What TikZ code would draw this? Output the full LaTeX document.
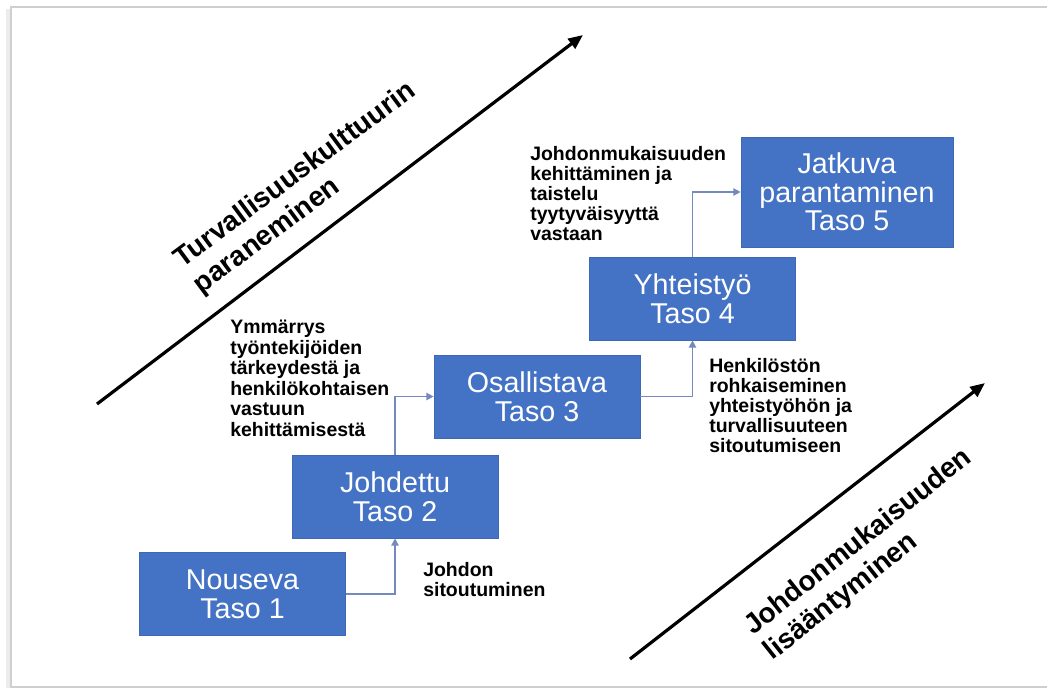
\documentclass[tikz,border=0pt]{standalone}
\usepackage{fontspec}
\setmainfont{Liberation Sans}
\usetikzlibrary{arrows.meta}
\definecolor{boxblue}{HTML}{4472C4}
\definecolor{boxedge}{HTML}{3E68B6}
\definecolor{connblue}{HTML}{7489BD}
\definecolor{framegray}{HTML}{CFCFCF}
\begin{document}
\begin{tikzpicture}[x=0.75pt,y=-0.75pt,
  level/.style={fill=boxblue,draw=boxedge,line width=0.5pt,text=white,align=center,
    minimum width=154.5pt,minimum height=62.25pt,inner sep=0pt,
    font=\fontsize{21.5}{21.5}\selectfont},
  conn/.style={draw=connblue,line width=1.1pt,-{Triangle[length=5.5pt,width=5.5pt]}},
  note/.style={align=left,anchor=north west,inner sep=0pt,
    font=\fontsize{14.6}{15}\selectfont\bfseries},
  diag/.style={align=left,anchor=north west,inner sep=0pt,font=\fontsize{21}{24}\selectfont\bfseries},
  bigarrow/.style={draw=black,line width=2.4pt,-{Triangle[length=11pt,width=9pt]}}]
\useasboundingbox (0,0) rectangle (1047,688);
% frame
\draw[gray!15,line width=2.5pt] (8,9) -- (8,688);
\draw[framegray,line width=1.1pt] (11,688) -- (11,7) -- (1047,7);
\draw[framegray,line width=1.1pt] (11,687) -- (1047,687);
% boxes
\node[level] (b1) at (242.5,594) {Nouseva\\Taso 1};
\node[level] (b2) at (395,496.5) {Johdettu\\Taso 2};
\node[level] (b3) at (537,396.5) {Osallistava\\Taso 3};
\node[level] (b4) at (692.5,298.5) {Yhteistyö\\Taso 4};
\node[level,minimum width=159pt,minimum height=82.5pt] (b5) at (847,192) {Jatkuva\\parantaminen\\Taso 5};
% connectors
\draw[conn] (b1.east) -| (b2.south);
\draw[conn] (b2.north) |- (b3.west);
\draw[conn] (b3.east) -| (b4.south);
\draw[conn] (b4.north) |- (b5.west);
% notes
\node[note] (n1) at (423,562) {Johdon\\sitoutuminen};
\node[note,font=\fontsize{14.6}{15.4}\selectfont\bfseries] (n2) at (230,320) {Ymmärrys\\työntekijöiden\\tärkeydestä ja\\henkilökohtaisen\\vastuun\\kehittämisestä};
\node[note] (n3) at (709,358) {Henkilöstön\\rohkaiseminen\\yhteistyöhön ja\\turvallisuuteen\\sitoutumiseen};
\node[note] (n4) at (530,146) {Johdonmukaisuuden\\kehittäminen ja\\taistelu\\tyytyväisyyttä\\vastaan};
% big arrows
\coordinate (a1s) at (97,404);
\coordinate (a1e) at (583,35);
\coordinate (a2s) at (630,659);
\coordinate (a2e) at (985,383);
\draw[bigarrow] (a1s) -- (a1e);
\draw[bigarrow] (a2s) -- (a2e);
% diagonal labels
\node[diag,rotate=36.5] (t1) at (170,252) {Turvallisuuskulttuurin\\paraneminen};
\node[diag,rotate=38.5] (t2) at (740,620) {Johdonmukaisuuden\\lisääntyminen};
\end{tikzpicture}
\end{document}
